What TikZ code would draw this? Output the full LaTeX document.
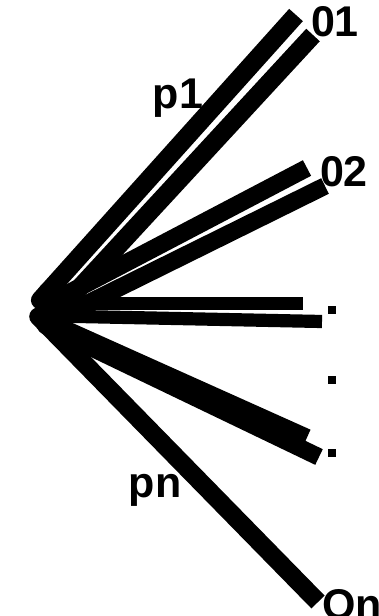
\documentclass[tikz,border=0pt]{standalone}
\usepackage{fontspec}
\setmainfont{Liberation Sans}
\usetikzlibrary{arrows.meta, positioning}

\begin{document}
\begin{tikzpicture}[x=0.5pt, y=-0.5pt,
    every node/.style={font=\bfseries\fontsize{21.5}{24}\selectfont, inner sep=0pt},
    ray/.style={line width=#1, {Round Cap[]}-},
    smalldot/.style={fill, minimum size=4pt, inner sep=0pt}]
  \useasboundingbox (0,0) rectangle (379,616);
  % ray starts, all bunched at the left tip
  \coordinate (s1a) at (34,307);
  \coordinate (s1b) at (48,322);
  \coordinate (s2a) at (42,307);
  \coordinate (s2b) at (60,317);
  \coordinate (s3a) at (34,303.5);
  \coordinate (s3b) at (40,315.7);
  \coordinate (s4a) at (36,316);
  \coordinate (s4b) at (38,322);
  \coordinate (sn)  at (32,310);
  % ray ends (two rays per outcome)
  \coordinate (e1a) at (296,15);
  \coordinate (e1b) at (313,35);
  \coordinate (e2a) at (307,168);
  \coordinate (e2b) at (325,186);
  \coordinate (e3a) at (303,303.5);
  \coordinate (e3b) at (322,321.5);
  \coordinate (e4a) at (307,437.5);
  \coordinate (e4b) at (319,457);
  \coordinate (en)  at (318,602);
  % rays (width grows with the slope, like a square pen)
  \foreach \s/\e/\w in {s1a/e1a/9.2pt, s1b/e1b/9.2pt, s2a/e2a/8.8pt,
      s2b/e2b/8.7pt, s3a/e3a/6.5pt, s3b/e3b/6.6pt, s4a/e4a/8.6pt,
      s4b/e4b/8.7pt, sn/en/9.2pt}
    \draw[ray=\w] (\s) -- (\e);
  % outcome labels
  \node (o1) at (335,22)  {01};
  \node (o2) at (344,172) {02};
  \node (on) at (352,605) {On};
  % probability labels
  \node (p1) at (178,98)  {p1};
  \node (pn) at (155,490) {pn};
  % dots for the omitted outcomes
  \node[smalldot] (d1) at (332,310) {};
  \node[smalldot] (d2) at (332,380) {};
  \node[smalldot] (d3) at (332,453) {};
\end{tikzpicture}
\end{document}
